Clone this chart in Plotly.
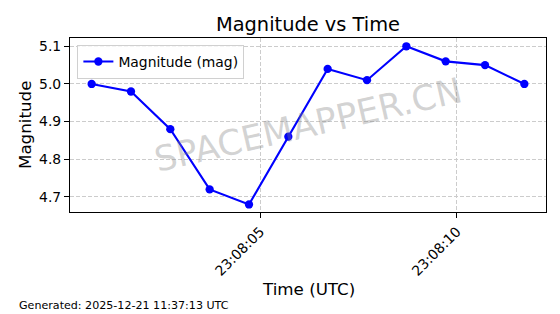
import plotly.graph_objects as go

times = [
    "2025-12-21 23:08:00.714", "2025-12-21 23:08:01.714", "2025-12-21 23:08:02.714",
    "2025-12-21 23:08:03.714", "2025-12-21 23:08:04.714", "2025-12-21 23:08:05.714",
    "2025-12-21 23:08:06.714", "2025-12-21 23:08:07.714", "2025-12-21 23:08:08.714",
    "2025-12-21 23:08:09.714", "2025-12-21 23:08:10.714", "2025-12-21 23:08:11.714",
]
magnitudes = [5.00, 4.98, 4.88, 4.72, 4.68, 4.86, 5.04, 5.01, 5.10, 5.06, 5.05, 5.00]
x_range = ["2025-12-21 23:08:00.164", "2025-12-21 23:08:12.264"]
y_range = [4.660, 5.122]

FONT = "DejaVu Sans"

fig = go.Figure()
fig.add_trace(go.Scatter(
    x=times, y=magnitudes, mode="lines+markers", name="Magnitude (mag)",
    line=dict(color="#0000ff", width=2.1),
    marker=dict(color="#0000ff", size=8.3),
))

fig.update_layout(
    width=560, height=314,
    margin=dict(l=70, r=14, t=38, b=102),
    paper_bgcolor="white", plot_bgcolor="white",
    font=dict(family=FONT, color="black", size=13.9),
    title=dict(text="Magnitude vs Time", x=0.5, xref="paper", xanchor="center",
               y=1 - 24 / 314, yref="container", yanchor="middle",
               font=dict(size=19.4, family=FONT, color="black")),
    showlegend=True,
    legend=dict(x=0.0155, y=0.96, xanchor="left", yanchor="top",
                bgcolor="rgba(255,255,255,0.8)", bordercolor="#d0d0d0", borderwidth=1,
                font=dict(size=13.9, family=FONT), tracegroupgap=0),
)

fig.update_xaxes(
    type="date", range=x_range, tick0="2025-12-21 23:08:00", dtick=5000,
    tickformat="%H:%M:%S", tickangle=-45,
    ticks="outside", ticklen=5, tickwidth=1.1, tickcolor="black",
    showline=True, mirror=True, linecolor="black", linewidth=1.1,
    showgrid=True, gridcolor="#cccccc", griddash="4px,2px", gridwidth=0.8,
    zeroline=False, tickfont=dict(size=13.9, family=FONT),
)
fig.update_yaxes(
    range=y_range, tick0=4.7, dtick=0.1, tickformat=".1f",
    ticks="outside", ticklen=5, tickwidth=1.1, tickcolor="black",
    showline=True, mirror=True, linecolor="black", linewidth=1.1,
    showgrid=True, gridcolor="#cccccc", griddash="4px,2px", gridwidth=0.8,
    zeroline=False, tickfont=dict(size=13.9, family=FONT),
)

fig.add_annotation(text="SPACEMAPPER.CN", xref="paper", yref="paper", x=0.5, y=0.5,
                   xanchor="center", yanchor="middle", textangle=-13, showarrow=False,
                   font=dict(size=35, family=FONT, color="rgba(128,128,128,0.35)"))
fig.add_annotation(text="Time (UTC)", xref="paper", yref="paper", x=0.5, y=-(289 - 212) / 174,
                   xanchor="center", yanchor="middle", showarrow=False,
                   font=dict(size=16.7, family=FONT, color="black"))
fig.add_annotation(text="Magnitude", xref="paper", yref="paper", x=-(70 - 25) / 476, y=0.5,
                   xanchor="center", yanchor="middle", textangle=-90, showarrow=False,
                   font=dict(size=16.7, family=FONT, color="black"))
fig.add_annotation(text="Generated: 2025-12-21 11:37:13 UTC", xref="paper", yref="paper",
                   x=-(70 - 17) / 476, y=-(305 - 212) / 174, xanchor="left", yanchor="middle",
                   showarrow=False, font=dict(size=11.1, family=FONT, color="black"))

fig.write_html("out.html")
